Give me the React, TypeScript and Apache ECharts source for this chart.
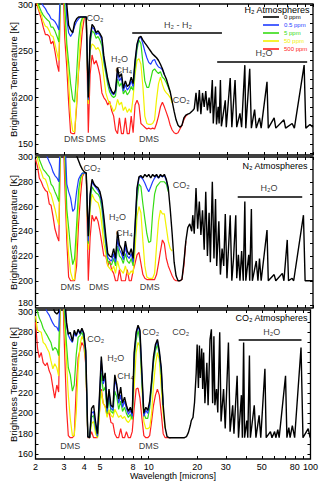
import { useEffect, useRef } from "react";
import * as echarts from "echarts";

const FONT = "'Liberation Sans', Arial, Helvetica, sans-serif";

// shared wavelength grid (microns) for the short-wavelength part of every panel
const wavelengthGrid = [
  2.0, 2.06, 2.11, 2.17, 2.23, 2.3, 2.36, 2.43, 2.49, 2.56,
  2.63, 2.71, 2.78, 2.86, 2.94, 3.02, 3.11, 3.19, 3.28, 3.38,
  3.47, 3.57, 3.67, 3.77, 3.87, 3.98, 4.09, 4.21, 4.32, 4.44,
  4.57, 4.7, 4.83, 4.96, 5.1, 5.24, 5.39, 5.54, 5.69, 5.85,
  6.02, 6.18, 6.36, 6.53, 6.72, 6.9, 7.1, 7.29, 7.5, 7.71,
  7.92, 8.14, 8.37, 8.6, 8.84, 9.09, 9.34, 9.61, 9.87, 10.15,
  10.43, 10.72, 11.02, 11.33, 11.64, 11.97, 12.3, 12.65, 13.0, 13.36,
  13.73, 14.12, 14.51, 14.92, 15.33, 15.76, 16.2, 16.65, 17.12, 17.6,
  18.09,
];

// ---------- Panel 1 : H2 atmospheres ----------
const p1Black = [
  330, 330, 330, 330, 330, 330, 330, 330, 330, 330,
  330, 330, 330, 330, 330, 330, 300, 278, 273, 270,
  281, 285, 287, 287, 287, 287, 287, 200, 265, 279,
  276, 270, 272, 269, 265, 245, 232, 220, 212, 207,
  204, 208, 232, 222, 226, 210, 218, 212, 214, 222,
  215, 240, 258, 265, 266, 262, 259, 256, 253, 250,
  247, 245, 243, 240, 236, 231, 225, 220, 213, 206,
  196, 185, 176, 170, 168, 170, 178, 181, 182, 183,
  185,
];
const p1Blue = [
  330, 320, 310, 303, 299, 296, 292, 289, 285, 284,
  282, 278, 273, 330, 330, 330, 285, 270, 266, 270,
  277, 282, 285, 287, 287, 287, 287, 198, 262, 276,
  274, 268, 270, 267, 262, 242, 230, 218, 210, 205,
  203, 206, 228, 218, 222, 207, 214, 208, 211, 218,
  212, 238, 256, 264, 265, 258, 250, 243, 238, 236,
  240, 241, 236, 233, 232, 230, 225,
];
const p1Green = [
  320, 305, 298, 293, 289, 286, 284, 282, 276, 276,
  272, 266, 260, 330, 330, 300, 258, 238, 215, 198,
  195, 225, 262, 280, 286, 287, 287, 197, 258, 272,
  270, 264, 266, 262, 256, 238, 226, 214, 206, 202,
  200, 202, 220, 212, 216, 204, 208, 203, 206, 212,
  208, 232, 252, 262, 258, 238, 218, 211, 211, 220,
  229, 231, 228, 226, 228, 222, 220, 216, 211, 206,
];
const p1Yellow = [
  312, 300, 294, 290, 282, 277, 276, 272, 267, 266,
  258, 248, 240, 330, 330, 290, 250, 218, 180, 164,
  163, 195, 230, 268, 284, 287, 287, 193, 250, 258,
  256, 252, 254, 250, 240, 222, 205, 198, 194, 190,
  185, 188, 198, 192, 195, 186, 190, 184, 188, 184,
  200, 225, 240, 242, 236, 212, 180, 172, 171, 171,
  172, 176, 198, 215, 222, 214, 208, 205, 203, 200,
  194,
];
const p1Red = [
  305, 298, 292, 285, 276, 268, 268, 266, 258, 261,
  250, 236, 228, 330, 330, 265, 232, 195, 162, 161,
  161, 190, 228, 250, 272, 286, 287, 162, 225, 246,
  236, 240, 233, 224, 205, 200, 197, 192, 196, 186,
  180, 165, 161, 178, 161, 161, 178, 161, 161, 180,
  162, 192, 197, 192, 172, 170, 168, 166, 167, 166,
  167, 166, 172, 180, 190, 195, 190, 184, 178, 170,
  165, 162, 161, 162, 166, 170, 176, 180, 182,
];
const p1TailWl = [
  18.36, 18.75, 19.22, 19.67, 20.14, 20.59, 21.07, 21.57, 22.05, 22.58,
  23.11, 23.53, 24.19, 24.52, 25.31, 25.66, 26.27, 26.63, 27.11, 27.49,
  29.04, 29.45, 31.12, 31.85, 33.33, 34.12, 35.71, 36.56, 38.25, 38.78,
  40.98, 41.95, 43.9, 44.94, 47.03, 48.15, 52.29, 53.24, 57.82, 59.19,
  66.37, 67.94, 74.51, 76.9, 88.25, 90.34, 95.86, 99.9,
];
const p1TailT = [
  186, 188, 205, 185, 208, 182, 205, 190, 207, 186,
  200, 183, 219, 172, 212, 171, 190, 172, 219, 169,
  197, 168, 221, 168, 219, 168, 183, 168, 235, 167,
  231, 167, 187, 167, 178, 167, 217, 167, 178, 167,
  176, 167, 172, 167, 235, 167, 171, 168,
];

// ---------- Panel 2 : N2 atmospheres ----------
const p2Black = [
  320, 320, 320, 320, 320, 320, 320, 320, 320, 320,
  320, 320, 320, 320, 320, 320, 320, 320, 320, 320,
  320, 301, 297, 293, 290, 288, 287, 236, 270, 282,
  278, 276, 275, 272, 265, 252, 236, 222, 220, 219,
  226, 218, 240, 229, 226, 220, 232, 224, 221, 226,
  218, 245, 275, 284, 285, 283, 286, 284, 286, 283,
  286, 284, 286, 283, 286, 284, 286, 282, 275, 258,
  238, 215, 204, 200, 200, 201, 215, 232, 243, 246,
  240,
];
const p2Blue = [
  330, 330, 330, 330, 330, 305, 300, 296, 293, 288,
  285, 283, 280, 330, 330, 320, 278, 272, 267, 256,
  258, 272, 282, 285, 287, 287, 287, 232, 268, 280,
  277, 275, 273, 270, 262, 248, 232, 219, 217, 216,
  222, 215, 234, 225, 222, 217, 228, 220, 218, 222,
  215, 243, 273, 283, 284, 282, 279, 275, 272, 276,
  280, 283, 285, 283, 285, 284, 285, 281, 274,
];
const p2Green = [
  330, 305, 298, 294, 290, 288, 286, 284, 278, 276,
  272, 268, 264, 330, 330, 310, 258, 243, 226, 213,
  218, 245, 273, 283, 287, 287, 287, 230, 264, 276,
  273, 271, 270, 267, 258, 242, 228, 216, 214, 213,
  218, 212, 228, 220, 218, 214, 222, 216, 214, 218,
  212, 238, 266, 278, 276, 262, 250, 238, 231, 232,
  255, 270, 276, 278, 280, 280, 280, 278, 272,
];
const p2Yellow = [
  310, 298, 292, 288, 283, 282, 278, 272, 270, 264,
  258, 250, 245, 330, 330, 300, 245, 221, 207, 201,
  201, 232, 262, 280, 286, 287, 287, 225, 258, 270,
  266, 264, 263, 258, 245, 230, 222, 212, 210, 208,
  212, 206, 216, 210, 208, 206, 212, 206, 205, 208,
  206, 225, 252, 260, 255, 232, 212, 203, 202, 202,
  202, 206, 228, 248, 257, 254, 254, 243, 232, 226,
  224,
];
const p2Red = [
  298, 292, 283, 280, 276, 273, 272, 262, 261, 252,
  242, 236, 232, 330, 330, 280, 232, 203, 200, 200,
  200, 212, 246, 268, 284, 287, 287, 200, 235, 253,
  248, 252, 248, 240, 230, 220, 220, 212, 216, 209,
  206, 200, 200, 209, 200, 200, 200, 209, 200, 200,
  208, 214, 221, 223, 214, 205, 202, 201, 201, 201,
  201, 201, 205, 214, 224, 233, 230, 218, 212, 208,
  204, 201, 200, 200, 200, 201, 212, 232,
];
const p2TailWl = [
  18.36, 18.75, 19.22, 19.67, 20.14, 20.59, 21.07, 21.57, 22.05, 22.58,
  23.11, 23.53, 24.19, 24.76, 25.31, 25.73, 26.52, 27.11, 27.76, 28.41,
  29.04, 29.73, 31.12, 31.85, 32.61, 33.66, 34.12, 34.93, 35.71, 36.56,
  37.42, 38.25, 38.78, 40.42, 40.98, 41.95, 42.53, 44.94, 46.01, 47.03,
  48.15, 52.29, 53.24, 57.82, 59.19, 64.91, 66.37, 69.55, 70.8, 74.51,
  76.16, 87.4, 89.48, 99.9,
];
const p2TailT = [
  253, 238, 275, 242, 264, 237, 257, 225, 272, 220,
  255, 215, 280, 218, 266, 212, 248, 205, 226, 212,
  254, 202, 253, 200, 218, 253, 202, 221, 200, 224,
  200, 264, 200, 221, 200, 258, 200, 216, 200, 218,
  200, 241, 200, 205, 200, 206, 200, 233, 200, 202,
  200, 253, 200, 200,
];

// ---------- Panel 3 : CO2 atmospheres ----------
const p3Black = [
  330, 330, 330, 330, 330, 330, 330, 330, 330, 305,
  300, 298, 300, 330, 330, 320, 290, 278, 280, 271,
  282, 277, 283, 279, 284, 279, 262, 177, 176, 205,
  208, 192, 180, 215, 256, 232, 240, 205, 224, 208,
  206, 238, 228, 214, 226, 210, 216, 208, 202, 206,
  200, 260, 280, 287, 282, 240, 200, 206, 203, 212,
  232, 256, 268, 273, 262, 245, 208, 186, 177, 176,
  176, 176, 176, 176, 176, 176, 176, 176, 177, 181,
  188,
];
const p3Blue = [
  330, 330, 330, 330, 330, 305, 300, 297, 293, 289,
  286, 285, 281, 330, 330, 310, 287, 277, 273, 270,
  279, 276, 282, 278, 283, 278, 260, 177, 176, 200,
  202, 188, 178, 212, 252, 229, 236, 202, 221, 205,
  203, 234, 225, 210, 218, 206, 212, 205, 199, 203,
  197, 257, 278, 286, 280, 236, 197, 203, 200, 209,
  230, 254, 266, 272, 260, 243, 208,
];
const p3Green = [
  310, 300, 294, 290, 284, 280, 277, 273, 270, 262,
  265, 263, 257, 330, 330, 300, 268, 245, 238, 222,
  228, 258, 275, 277, 280, 274, 255, 177, 176, 196,
  198, 185, 177, 205, 240, 222, 226, 200, 214, 202,
  200, 222, 216, 204, 212, 202, 206, 200, 196, 199,
  194, 252, 272, 282, 272, 230, 200, 195, 195, 205,
  225, 250, 262, 268, 258, 238, 208,
];
const p3Yellow = [
  296, 282, 281, 280, 270, 268, 264, 260, 252, 244,
  249, 245, 237, 330, 330, 290, 250, 218, 195, 178,
  178, 200, 245, 268, 276, 272, 250, 177, 176, 190,
  192, 180, 176, 198, 222, 210, 206, 196, 204, 198,
  196, 204, 200, 196, 198, 195, 197, 193, 191, 194,
  200, 225, 260, 270, 266, 225, 192, 185, 185, 186,
  200, 228, 248, 260, 253, 225, 200, 186,
];
const p3Red = [
  290, 264, 255, 260, 250, 247, 250, 242, 238, 226,
  215, 228, 221, 330, 330, 265, 205, 178, 176, 176,
  178, 225, 255, 263, 270, 266, 248, 176, 176, 182,
  176, 176, 176, 200, 224, 210, 207, 198, 202, 191,
  190, 180, 176, 176, 185, 176, 176, 182, 176, 176,
  182, 205, 224, 225, 215, 195, 178, 176, 176, 178,
  192, 208, 218, 224, 218, 200, 180, 176, 176, 176,
  176,
];
const p3TailWl = [
  18.36, 18.8, 19.22, 19.67, 19.94, 20.3, 20.59, 20.87, 21.28, 21.57,
  21.87, 22.27, 22.89, 23.3, 23.95, 24.42, 24.86, 25.31, 25.66, 26.27,
  26.74, 27.49, 28.02, 29.04, 29.73, 31.12, 31.85, 33.06, 33.66, 35.22,
  35.91, 37.42, 37.94, 38.63, 39.16, 40.42, 40.98, 41.95, 42.53, 44.94,
  46.01, 48.15, 49.29, 52.29, 53.24, 56.56, 57.82, 60.01, 61.09, 62.8,
  64.03, 70.12, 71.49, 73.49, 74.81, 77.22, 79.82, 87.4, 89.85, 96.79,
  99.49,
];
const p3TailT = [
  193, 196, 211, 240, 268, 225, 267, 235, 264, 224,
  260, 210, 250, 208, 273, 283, 210, 276, 208, 224,
  201, 280, 192, 224, 185, 270, 182, 208, 180, 237,
  176, 218, 176, 270, 176, 193, 176, 257, 176, 208,
  176, 198, 176, 244, 176, 182, 176, 182, 176, 184,
  176, 237, 176, 186, 176, 188, 176, 265, 176, 185,
  176,
];

// ---------- annotations ----------
const p1AnnoText = ["CO\u2082", "H\u2082O", "CH\u2084", "DMS", "DMS", "DMS", "H\u2082 - H\u2082", "CO\u2082", "H\u2082O"];
const p1AnnoWl = [4.63, 6.54, 6.95, 3.44, 4.67, 9.9, 14.9, 15.6, 50.2];
const p1AnnoT = [285.5, 241.5, 229.5, 155.5, 155.5, 155.5, 278, 197.5, 248];
const p1BarWl = [[7.82, 27.7], [25.9, 92.1]];
const p1BarT = [269.5, 238.3];

const p2AnnoText = ["CO\u2082", "H\u2082O", "CH\u2084", "DMS", "DMS", "DMS", "CO\u2082", "H\u2082O"];
const p2AnnoWl = [4.44, 6.36, 7.0, 3.28, 4.89, 10.0, 15.6, 53.8];
const p2AnnoT = [291, 251.5, 238.6, 195.2, 195.2, 195.2, 277.6, 275];
const p2BarWl = [[34.6, 85.9]];
const p2BarT = [267.7];

const p3AnnoText = ["CO\u2082", "H\u2082O", "CH\u2084", "DMS", "DMS", "CO\u2082", "CO\u2082", "H\u2082O"];
const p3AnnoWl = [4.72, 6.27, 7.2, 3.28, 10.0, 10.3, 15.8, 57.6];
const p3AnnoT = [273.5, 255, 237, 168, 168, 280.4, 280.4, 280.4];
const p3BarWl = [[36, 88]];
const p3BarT = [272.6];

const panelTitles = ["H\u2082 Atmospheres", "N\u2082 Atmospheres", "CO\u2082 Atmospheres"];

// ---------- axes ----------
const xTickValues = [2, 3, 4, 5, 6, 7, 8, 9, 10, 20, 30, 40, 50, 60, 70, 80, 90, 100];
const xTickLabels = [2, 3, 4, 5, 8, 10, 20, 30, 50, 80, 100];
const p1YLabels = [150, 200, 250, 300];
const p1YTicks = [140, 150, 160, 170, 180, 190, 200, 210, 220, 230, 240, 250, 260, 270, 280, 290, 300];
const p2YLabels = [180, 200, 220, 240, 260, 280, 300];
const p2YTicks = [180, 190, 200, 210, 220, 230, 240, 250, 260, 270, 280, 290, 300];
const p3YLabels = [160, 180, 200, 220, 240, 260, 280, 300];
const p3YTicks = [160, 170, 180, 190, 200, 210, 220, 230, 240, 250, 260, 270, 280, 290, 300];

const seriesNames = ["0 ppm", "0.5 ppm", "5 ppm", "50 ppm", "500 ppm"];
const seriesColors = ["#000000", "#1f3cff", "#35dc14", "#f2f200", "#ff2020"];

function toPairs(wl: number[], vals: number[]) {
  return vals.map((t, i) => [Math.log10(wl[i]), t]);
}

function buildOption() {
  const panels = [
    { top: 4, height: 151, yMin: 138, yMax: 301, yLabels: p1YLabels, yTicks: p1YTicks, minLabelBottom: false,
      lines: [p1Black, p1Blue, p1Green, p1Yellow, p1Red], tailWl: p1TailWl, tailT: p1TailT,
      annoText: p1AnnoText, annoWl: p1AnnoWl, annoT: p1AnnoT, barWl: p1BarWl, barT: p1BarT },
    { top: 157, height: 151, yMin: 178, yMax: 300, yLabels: p2YLabels, yTicks: p2YTicks, minLabelBottom: true,
      lines: [p2Black, p2Blue, p2Green, p2Yellow, p2Red], tailWl: p2TailWl, tailT: p2TailT,
      annoText: p2AnnoText, annoWl: p2AnnoWl, annoT: p2AnnoT, barWl: p2BarWl, barT: p2BarT },
    { top: 310, height: 149, yMin: 155, yMax: 302, yLabels: p3YLabels, yTicks: p3YTicks, minLabelBottom: false,
      lines: [p3Black, p3Blue, p3Green, p3Yellow, p3Red], tailWl: p3TailWl, tailT: p3TailT,
      annoText: p3AnnoText, annoWl: p3AnnoWl, annoT: p3AnnoT, barWl: p3BarWl, barT: p3BarT },
  ];

  const grid: any[] = [];
  const xAxis: any[] = [];
  const yAxis: any[] = [];
  const series: any[] = [];
  const xMin = Math.log10(2);
  const xMax = 2;
  const tickStyle = { color: "#000", width: 1 };

  panels.forEach((p, i) => {
    grid.push({
      left: 29, right: 8, top: p.top, height: p.height,
      show: true, borderColor: "#000", borderWidth: 1.3, backgroundColor: "rgba(0,0,0,0)",
    });
    const isLast = i === panels.length - 1;
    xAxis.push({
      type: "value", gridIndex: i, position: "bottom", min: xMin, max: xMax,
      axisLine: { show: false }, splitLine: { show: false },
      axisTick: { show: true, inside: true, length: 3, lineStyle: tickStyle, customValues: xTickValues.map((v) => Math.log10(v)) },
      axisLabel: {
        show: isLast, customValues: xTickLabels.map((v) => Math.log10(v)),
        formatter: (v: number) => String(Math.round(Math.pow(10, v))),
        fontSize: 9, lineHeight: 9, color: "#000", fontFamily: FONT, margin: 3,
      },
      name: isLast ? "Wavelength [microns]" : "", nameLocation: "middle", nameGap: 12.5,
      nameMoveOverlap: false,
      nameTextStyle: { fontSize: 9, lineHeight: 9, color: "#000", fontFamily: FONT },
    });
    xAxis.push({
      type: "value", gridIndex: i, position: "top", min: xMin, max: xMax,
      axisLine: { show: false }, splitLine: { show: false },
      axisTick: { show: true, inside: true, length: 3, lineStyle: tickStyle, customValues: xTickValues.map((v) => Math.log10(v)) },
      axisLabel: { show: false },
    });
    const yLabel: any = { customValues: p.yLabels, fontSize: 9, lineHeight: 6, color: "#000", fontFamily: FONT, margin: 2.5 };
    if (p.minLabelBottom) yLabel.verticalAlignMinLabel = "bottom";
    yAxis.push({
      type: "value", gridIndex: i, position: "left", min: p.yMin, max: p.yMax,
      axisLine: { show: false }, splitLine: { show: false },
      axisTick: { show: true, inside: true, length: 3, lineStyle: tickStyle, customValues: p.yTicks },
      axisLabel: yLabel,
      name: "Brightness Temperature [K]", nameLocation: "middle", nameGap: 17.5, nameRotate: 90,
      nameMoveOverlap: false,
      nameTextStyle: { fontSize: 9.5, color: "#000", fontFamily: FONT },
    });
    yAxis.push({
      type: "value", gridIndex: i, position: "right", min: p.yMin, max: p.yMax,
      axisLine: { show: false }, splitLine: { show: false },
      axisTick: { show: true, inside: true, length: 3, lineStyle: tickStyle, customValues: p.yTicks },
      axisLabel: { show: false },
    });

    // draw order: red, yellow, green, blue, black (black on top)
    for (let s = 4; s >= 0; s--) {
      let data = toPairs(wavelengthGrid, p.lines[s]);
      if (s === 0) data = data.concat(toPairs(p.tailWl, p.tailT));
      series.push({
        type: "line", name: seriesNames[s], xAxisIndex: 2 * i, yAxisIndex: 2 * i,
        data, showSymbol: false, symbol: "none", silent: true, clip: true,
        color: seriesColors[s], itemStyle: { color: seriesColors[s] },
        lineStyle: { color: seriesColors[s], width: s === 0 ? 1.4 : 1.2 },
        z: 2 + (4 - s),
      });
    }

    series.push({
      type: "scatter", xAxisIndex: 2 * i, yAxisIndex: 2 * i, symbolSize: 0, silent: true, z: 20,
      data: p.annoText.map((t, j) => ({ name: t, value: [Math.log10(p.annoWl[j]), p.annoT[j]] })),
      label: { show: true, position: "inside", formatter: "{b}", fontSize: 9, color: "#000", fontFamily: FONT },
      markLine: {
        silent: true, symbol: ["none", "none"], animation: false,
        label: { show: false },
        lineStyle: { color: "#000", width: 1.5, type: "solid" },
        emphasis: { disabled: true },
        data: p.barWl.map((pair, j) => [
          { coord: [Math.log10(pair[0]), p.barT[j]] },
          { coord: [Math.log10(pair[1]), p.barT[j]] },
        ]),
      },
    });
  });

  return {
    animation: false,
    textStyle: { fontFamily: FONT },
    title: [
      { text: panelTitles[0], right: 11, top: 5.5, padding: 0, textStyle: { fontSize: 9, fontWeight: "normal", color: "#000", fontFamily: FONT } },
      { text: panelTitles[1], right: 13, top: 161.5, padding: 0, textStyle: { fontSize: 9, fontWeight: "normal", color: "#000", fontFamily: FONT } },
      { text: panelTitles[2], right: 13, top: 313.5, padding: 0, textStyle: { fontSize: 9, fontWeight: "normal", color: "#000", fontFamily: FONT } },
    ],
    legend: {
      show: true, orient: "vertical", left: 263, top: 13.5, padding: 0,
      itemWidth: 16, itemHeight: 1.6, itemGap: 1, icon: "rect", selectedMode: false,
      textStyle: { fontSize: 6, lineHeight: 7, fontFamily: FONT },
      data: seriesNames.map((n, j) => ({ name: n, textStyle: { color: seriesColors[j] } })),
    },
    grid,
    xAxis,
    yAxis,
    series,
  };
}

export default function App() {
  const ref = useRef<HTMLDivElement>(null);
  useEffect(() => {
    if (!ref.current) return;
    const chart = echarts.init(ref.current, null, { renderer: "svg" });
    chart.setOption(buildOption() as any);
    return () => chart.dispose();
  }, []);
  return <div ref={ref} style={{ position: "absolute", left: 0, top: 0, width: 321, height: 482 }} />;
}
